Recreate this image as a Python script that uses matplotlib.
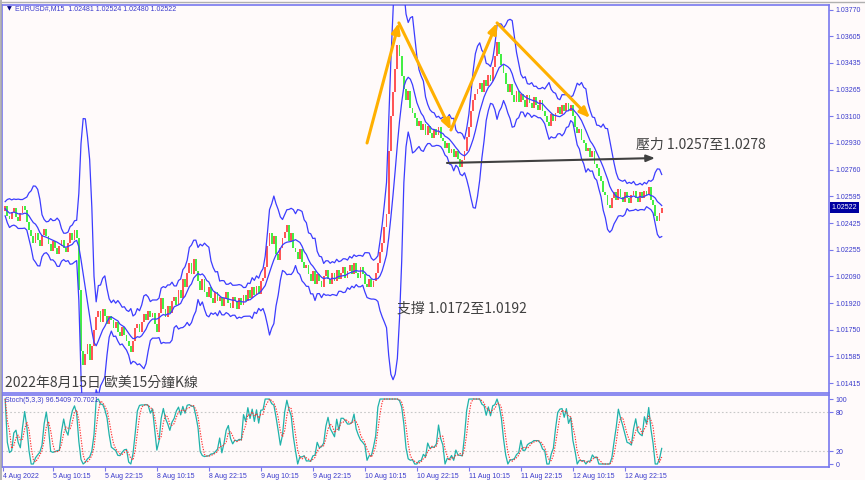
import numpy as np
import pandas as pd
import matplotlib
matplotlib.use("Agg")
import matplotlib.pyplot as plt
import matplotlib.transforms as mtransforms

# EURUSD 30-minute closes, in units of 0.00001 above 1.00000
close_pts = [
    2500, 2530, 2470, 2450, 2495, 2520, 2460, 2440, 2490, 2530,
    2510, 2430, 2380, 2340, 2300, 2360, 2320, 2280, 2350, 2390,
    2340, 2290, 2250, 2310, 2270, 2230, 2280, 2320, 2270, 2240,
    2300, 2360, 2320, 2380, 2330, 2000, 1620, 1530, 1600, 1660,
    1560, 1650, 1750, 1830, 1870, 1800, 1880, 1840, 1790, 1840,
    1810, 1760, 1800, 1740, 1710, 1770, 1720, 1680, 1650, 1610,
    1680, 1760, 1790, 1740, 1800, 1850, 1810, 1870, 1830, 1860,
    1790, 1740, 1860, 1950, 1880, 1830, 1900, 1860, 1930, 1960,
    1910, 2000, 1950, 2070, 2020, 2110, 2170, 2100, 2200, 2120,
    2060, 2000, 2070, 1990, 1960, 2020, 1950, 1920, 1990, 1930,
    1960, 1900, 1950, 1990, 1920, 1890, 1960, 1930, 1880, 1950,
    1910, 1970, 1930, 2000, 1950, 2020, 1970, 2030, 1980, 2060,
    2080, 2150, 2280, 2360, 2290, 2340, 2230, 2190, 2270, 2330,
    2370, 2410, 2310, 2360, 2270, 2240, 2200, 2260, 2180, 2140,
    2160, 2100, 2060, 2120, 2040, 2100, 2060, 2020, 2090, 2130,
    2070, 2040, 2110, 2060, 2130, 2070, 2110, 2150, 2080, 2120,
    2160, 2100, 2170, 2110, 2080, 2150, 2100, 2040, 2020, 2070,
    2020, 2060, 2110, 2170, 2240, 2300, 2400, 2480, 2880, 3100,
    3250, 3400, 3550, 3480, 3350, 3270, 3200, 3260, 3150, 3120,
    3090, 3040, 3070, 3010, 3050, 2980, 3040, 2990, 2960, 3020,
    2980, 3030, 2960, 2940, 2900, 2930, 2870, 2890, 2840, 2880,
    2830, 2780, 2820, 2880, 2970, 3030, 3130, 3200, 3240, 3270,
    3310, 3250, 3330, 3290, 3360, 3320, 3410, 3480, 3570, 3490,
    3420, 3370, 3300, 3250, 3300, 3230, 3190, 3260, 3190, 3240,
    3200, 3160, 3230, 3180, 3150, 3220, 3170, 3140, 3200, 3130,
    3100, 3060, 3040, 3110, 3070, 3120, 3160, 3110, 3170, 3130,
    3180, 3130, 3170, 3100, 3030, 2990, 3020, 2950, 2930, 2880,
    2900, 2840, 2880, 2800, 2770, 2720, 2690, 2620, 2600, 2540,
    2520, 2580, 2620, 2570, 2640, 2590, 2560, 2620, 2580, 2550,
    2600, 2630, 2580, 2560, 2620, 2580, 2630, 2600, 2650, 2570,
    2540, 2470, 2440, 2490, 2522,
]

time_labels = ["4 Aug 2022", "5 Aug 10:15", "5 Aug 22:15", "8 Aug 10:15",
               "8 Aug 22:15", "9 Aug 10:15", "9 Aug 22:15", "10 Aug 10:15",
               "10 Aug 22:15", "11 Aug 10:15", "11 Aug 22:15", "12 Aug 10:15",
               "12 Aug 22:15"]
price_ticks = [1.03770, 1.03605, 1.03435, 1.03265, 1.03100, 1.02930, 1.02760,
               1.02595, 1.02425, 1.02255, 1.02090, 1.01920, 1.01750, 1.01585,
               1.01415]
stoch_ticks = [100, 80, 20, 0]

header = "EURUSD#,M15  1.02481 1.02524 1.02480 1.02522"
stoch_header = "Stoch(5,3,3) 96.5409 70.7021"
last_price = 1.02522
title_txt = "2022年8月15日 歐美15分鐘K線"
support_txt = "支撐 1.0172至1.0192"
resist_txt = "壓力 1.0257至1.0278"

# hand-drawn swing arrows (bar index, price)
swing_x = [168, 182.7, 206.7, 228, 270.9]
swing_y = [1.02930, 1.03688, 1.03012, 1.03688, 1.03088]
resist_arrow_x = [204.9, 300.9]
resist_arrow_y = [1.02804, 1.02835]

BG = "#fffafa"
AXC = "#3a3acc"
FRAME = "#7878ee"
BAND = "#3c3cff"
SMALL = ["Liberation Sans", "DejaVu Sans"]
CJK = ["Noto Sans CJK TC", "DejaVu Sans"]

close = 1 + np.array(close_pts) / 1e5
opn = np.r_[close[0], close[:-1]]
idx = np.arange(len(close))
hi = np.maximum(opn, close)
lo = np.minimum(opn, close)

# bollinger bands
s = pd.Series(close)
mid = s.rolling(8, min_periods=2).mean()
sd = s.rolling(8, min_periods=2).std(ddof=0)
upper = mid + 3 * sd
lower = mid - 3 * sd

# stochastic
hh = pd.Series(hi).rolling(5, min_periods=1).max()
ll = pd.Series(lo).rolling(5, min_periods=1).min()
num = (s - ll).rolling(3, min_periods=1).sum()
den = (hh - ll).rolling(3, min_periods=1).sum()
k_line = 100 * num / den.replace(0, np.nan)
d_line = k_line.rolling(3, min_periods=1).mean()

fig = plt.figure(figsize=(8.65, 4.8), dpi=100, facecolor=BG)
ax = fig.add_axes([2 / 865, 1 - 393 / 480, 827 / 865, 388 / 480], facecolor=BG)
ax2 = fig.add_axes([2 / 865, 1 - 467 / 480, 827 / 865, 72 / 480], facecolor=BG, sharex=ax)

cols = np.where(close >= opn, "#ff5555", "#44ee44")
ax.bar(idx, hi - lo, bottom=lo, width=0.85, color=cols, linewidth=0, zorder=2)
for band in (upper, mid, lower):
    ax.plot(idx, band, color=BAND, lw=0.9, zorder=3)

ax.set_xlim(-0.46, 381.2)
ax.set_ylim(1.01352, 1.03801)
ax.yaxis.tick_right()
ax.set_yticks(price_ticks)
ax.set_yticklabels([f"{v:.5f}" for v in price_ticks])
ax.tick_params(axis="y", direction="out", length=3, width=0.8, colors=FRAME,
               labelcolor=AXC, labelsize=5, pad=1.5)
ax.tick_params(axis="x", bottom=False, labelbottom=False)
for lab in ax.get_yticklabels():
    lab.set_family(SMALL)

trans = mtransforms.blended_transform_factory(ax.transAxes, ax.transData)
ax.text(1.003, last_price, "1.02522", transform=trans, ha="left", va="center",
        fontsize=5, color="white", family=SMALL,
        bbox=dict(boxstyle="square,pad=0.25", fc="#0000a0", ec="none"))

# orange swing arrows
for i in range(len(swing_x) - 1):
    ax.annotate("", xy=(swing_x[i + 1], swing_y[i + 1]), xytext=(swing_x[i], swing_y[i]),
                arrowprops=dict(arrowstyle="-|>,head_length=0.6,head_width=0.25",
                                color="#ffb000", lw=2.2, shrinkA=0, shrinkB=0),
                zorder=5)
ax.annotate("", xy=(resist_arrow_x[1], resist_arrow_y[1]),
            xytext=(resist_arrow_x[0], resist_arrow_y[0]),
            arrowprops=dict(arrowstyle="-|>,head_length=0.5,head_width=0.2",
                            color="#404040", lw=1.5, shrinkA=0, shrinkB=0),
            zorder=5)

ax.text(181.8, 1.01888, support_txt, fontsize=10, color="#404040", family=CJK,
        ha="left", va="center", zorder=6)
ax.text(292, 1.02918, resist_txt, fontsize=10, color="#404040", family=CJK,
        ha="left", va="center", zorder=6)
ax.text(0.9, 1.01415, title_txt, fontsize=10, color="#404040", family=CJK,
        ha="left", va="center", zorder=6)

# stochastic panel
ax2.plot(idx, k_line, color="#20b2aa", lw=0.9, zorder=3)
ax2.plot(idx, d_line, color="#ff3030", lw=0.8, ls=(0, (1.2, 1.2)), zorder=4)
for lv in (80, 20):
    ax2.axhline(lv, color="#c8c8c8", lw=0.8, ls=(0, (1.5, 2)), zorder=1)
ax2.set_ylim(-4.6, 106.2)
ax2.yaxis.tick_right()
ax2.set_yticks(stoch_ticks)
ax2.set_yticklabels([str(v) for v in stoch_ticks])
ax2.tick_params(axis="y", direction="out", length=3, width=0.8, colors=FRAME,
                labelcolor=AXC, labelsize=5, pad=1.5)

tick_pos = [0] + [23 + 24 * k for k in range(len(time_labels) - 1)]
ax2.set_xticks(tick_pos)
ax2.set_xticklabels(time_labels)
ax2.tick_params(axis="x", direction="out", length=3, width=0.8, colors=FRAME,
                labelcolor=AXC, labelsize=5, pad=1.5)
for lab in ax2.get_xticklabels():
    lab.set_family(SMALL)
    lab.set_horizontalalignment("left")
for lab in ax2.get_yticklabels():
    lab.set_family(SMALL)

for a in (ax, ax2):
    for sp in a.spines.values():
        sp.set_color(FRAME)
        sp.set_linewidth(1.2)

fig.text(7 / 865, 1 - 9 / 480, "▼", fontsize=4.5, color="#000080",
         family="DejaVu Sans", va="center")
fig.text(15 / 865, 1 - 9 / 480, header, fontsize=5, color=AXC,
         family=SMALL, va="center")
fig.text(5 / 865, 1 - 401 / 480, stoch_header, fontsize=5, color=AXC,
         family=SMALL, va="center")

# window edges
fig.add_artist(plt.Line2D([0.5 / 865, 0.5 / 865], [0, 1], color="#a8a8a8", lw=1.2))
fig.add_artist(plt.Line2D([0, 1], [1 - 1.5 / 480, 1 - 1.5 / 480], color="#b0b0b0", lw=1))

fig.savefig("out.png", dpi=100, facecolor=BG)
